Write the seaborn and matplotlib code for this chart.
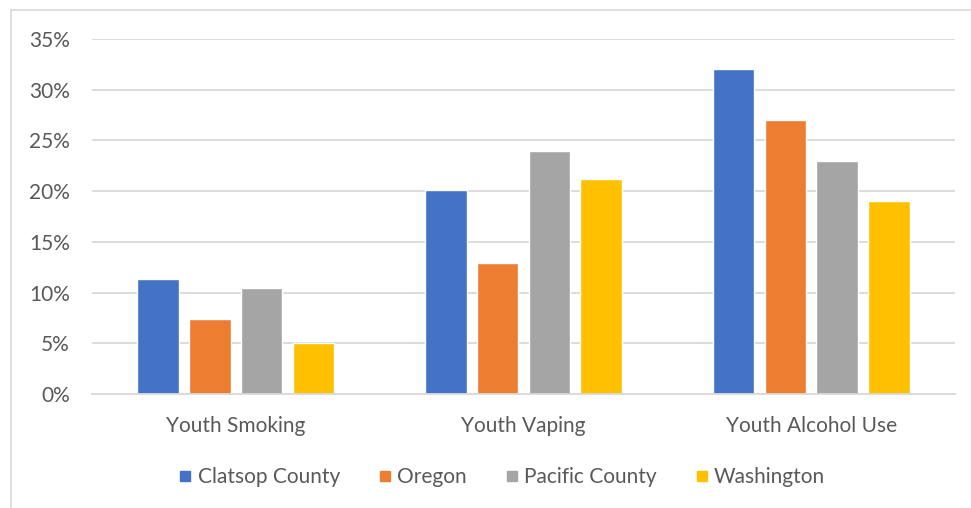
import pandas as pd
import matplotlib.pyplot as plt
import seaborn as sns
from matplotlib.ticker import PercentFormatter
from matplotlib.lines import Line2D

# Data
categories = ["Youth Smoking", "Youth Vaping", "Youth Alcohol Use"]
regions = ["Clatsop County", "Oregon", "Pacific County", "Washington"]
clatsop = [0.113, 0.201, 0.320]
oregon = [0.074, 0.129, 0.270]
pacific = [0.105, 0.240, 0.230]
washington = [0.050, 0.212, 0.190]
colors = ["#4472C4", "#ED7D31", "#A5A5A5", "#FFC000"]

rows = []
for reg, vals in zip(regions, [clatsop, oregon, pacific, washington]):
    for cat, v in zip(categories, vals):
        rows.append({"Category": cat, "Region": reg, "Value": v})
df = pd.DataFrame(rows)

sns.set_style("white")
plt.rcParams["font.family"] = ["Lato", "DejaVu Sans"]
text_color = "#595959"
grid_color = "#D9D9D9"

W, H = 971, 508
fig = plt.figure(figsize=(W / 100, H / 100), dpi=100)
ax = fig.add_axes([92 / W, 1 - 394 / H, (955 - 92) / W, (394 - 39) / H])

sns.barplot(
    data=df, x="Category", y="Value", hue="Region",
    order=categories, hue_order=regions, palette=colors,
    width=0.72, gap=0.2, saturation=1, ax=ax, legend=False,
)

ax.set_ylim(0, 0.35)
ax.set_yticks([i * 0.05 for i in range(8)])
ax.yaxis.set_major_formatter(PercentFormatter(1.0, decimals=0))
ax.grid(axis="y", color=grid_color, linewidth=1.3)
ax.set_axisbelow(True)
for side in ["left", "right", "top"]:
    ax.spines[side].set_visible(False)
ax.spines["bottom"].set_color(grid_color)
ax.spines["bottom"].set_linewidth(1.3)
ax.set_xlabel("")
ax.set_ylabel("")
ax.tick_params(axis="y", length=0, pad=16, labelsize=15, labelcolor=text_color)
ax.tick_params(axis="x", length=0, pad=16, labelsize=15, labelcolor=text_color)

# Legend at the bottom
handles = [Line2D([0], [0], marker="s", linestyle="", markersize=7.5,
                  markerfacecolor=c, markeredgecolor=c) for c in colors]
fig.legend(handles, regions, loc="center", bbox_to_anchor=(0.517, 1 - 477 / H),
           ncol=4, frameon=False, fontsize=15, labelcolor=text_color,
           handlelength=0.6, handletextpad=0.3, columnspacing=1.85)

# Chart frame (only left and top edges visible)
fig.add_artist(Line2D([11 / W, 11 / W], [0, 1 - 10 / H], transform=fig.transFigure,
                      color=grid_color, linewidth=1.2))
fig.add_artist(Line2D([11 / W, 1], [1 - 10 / H, 1 - 10 / H], transform=fig.transFigure,
                      color=grid_color, linewidth=1.2))

fig.savefig("out.png", dpi=100)
